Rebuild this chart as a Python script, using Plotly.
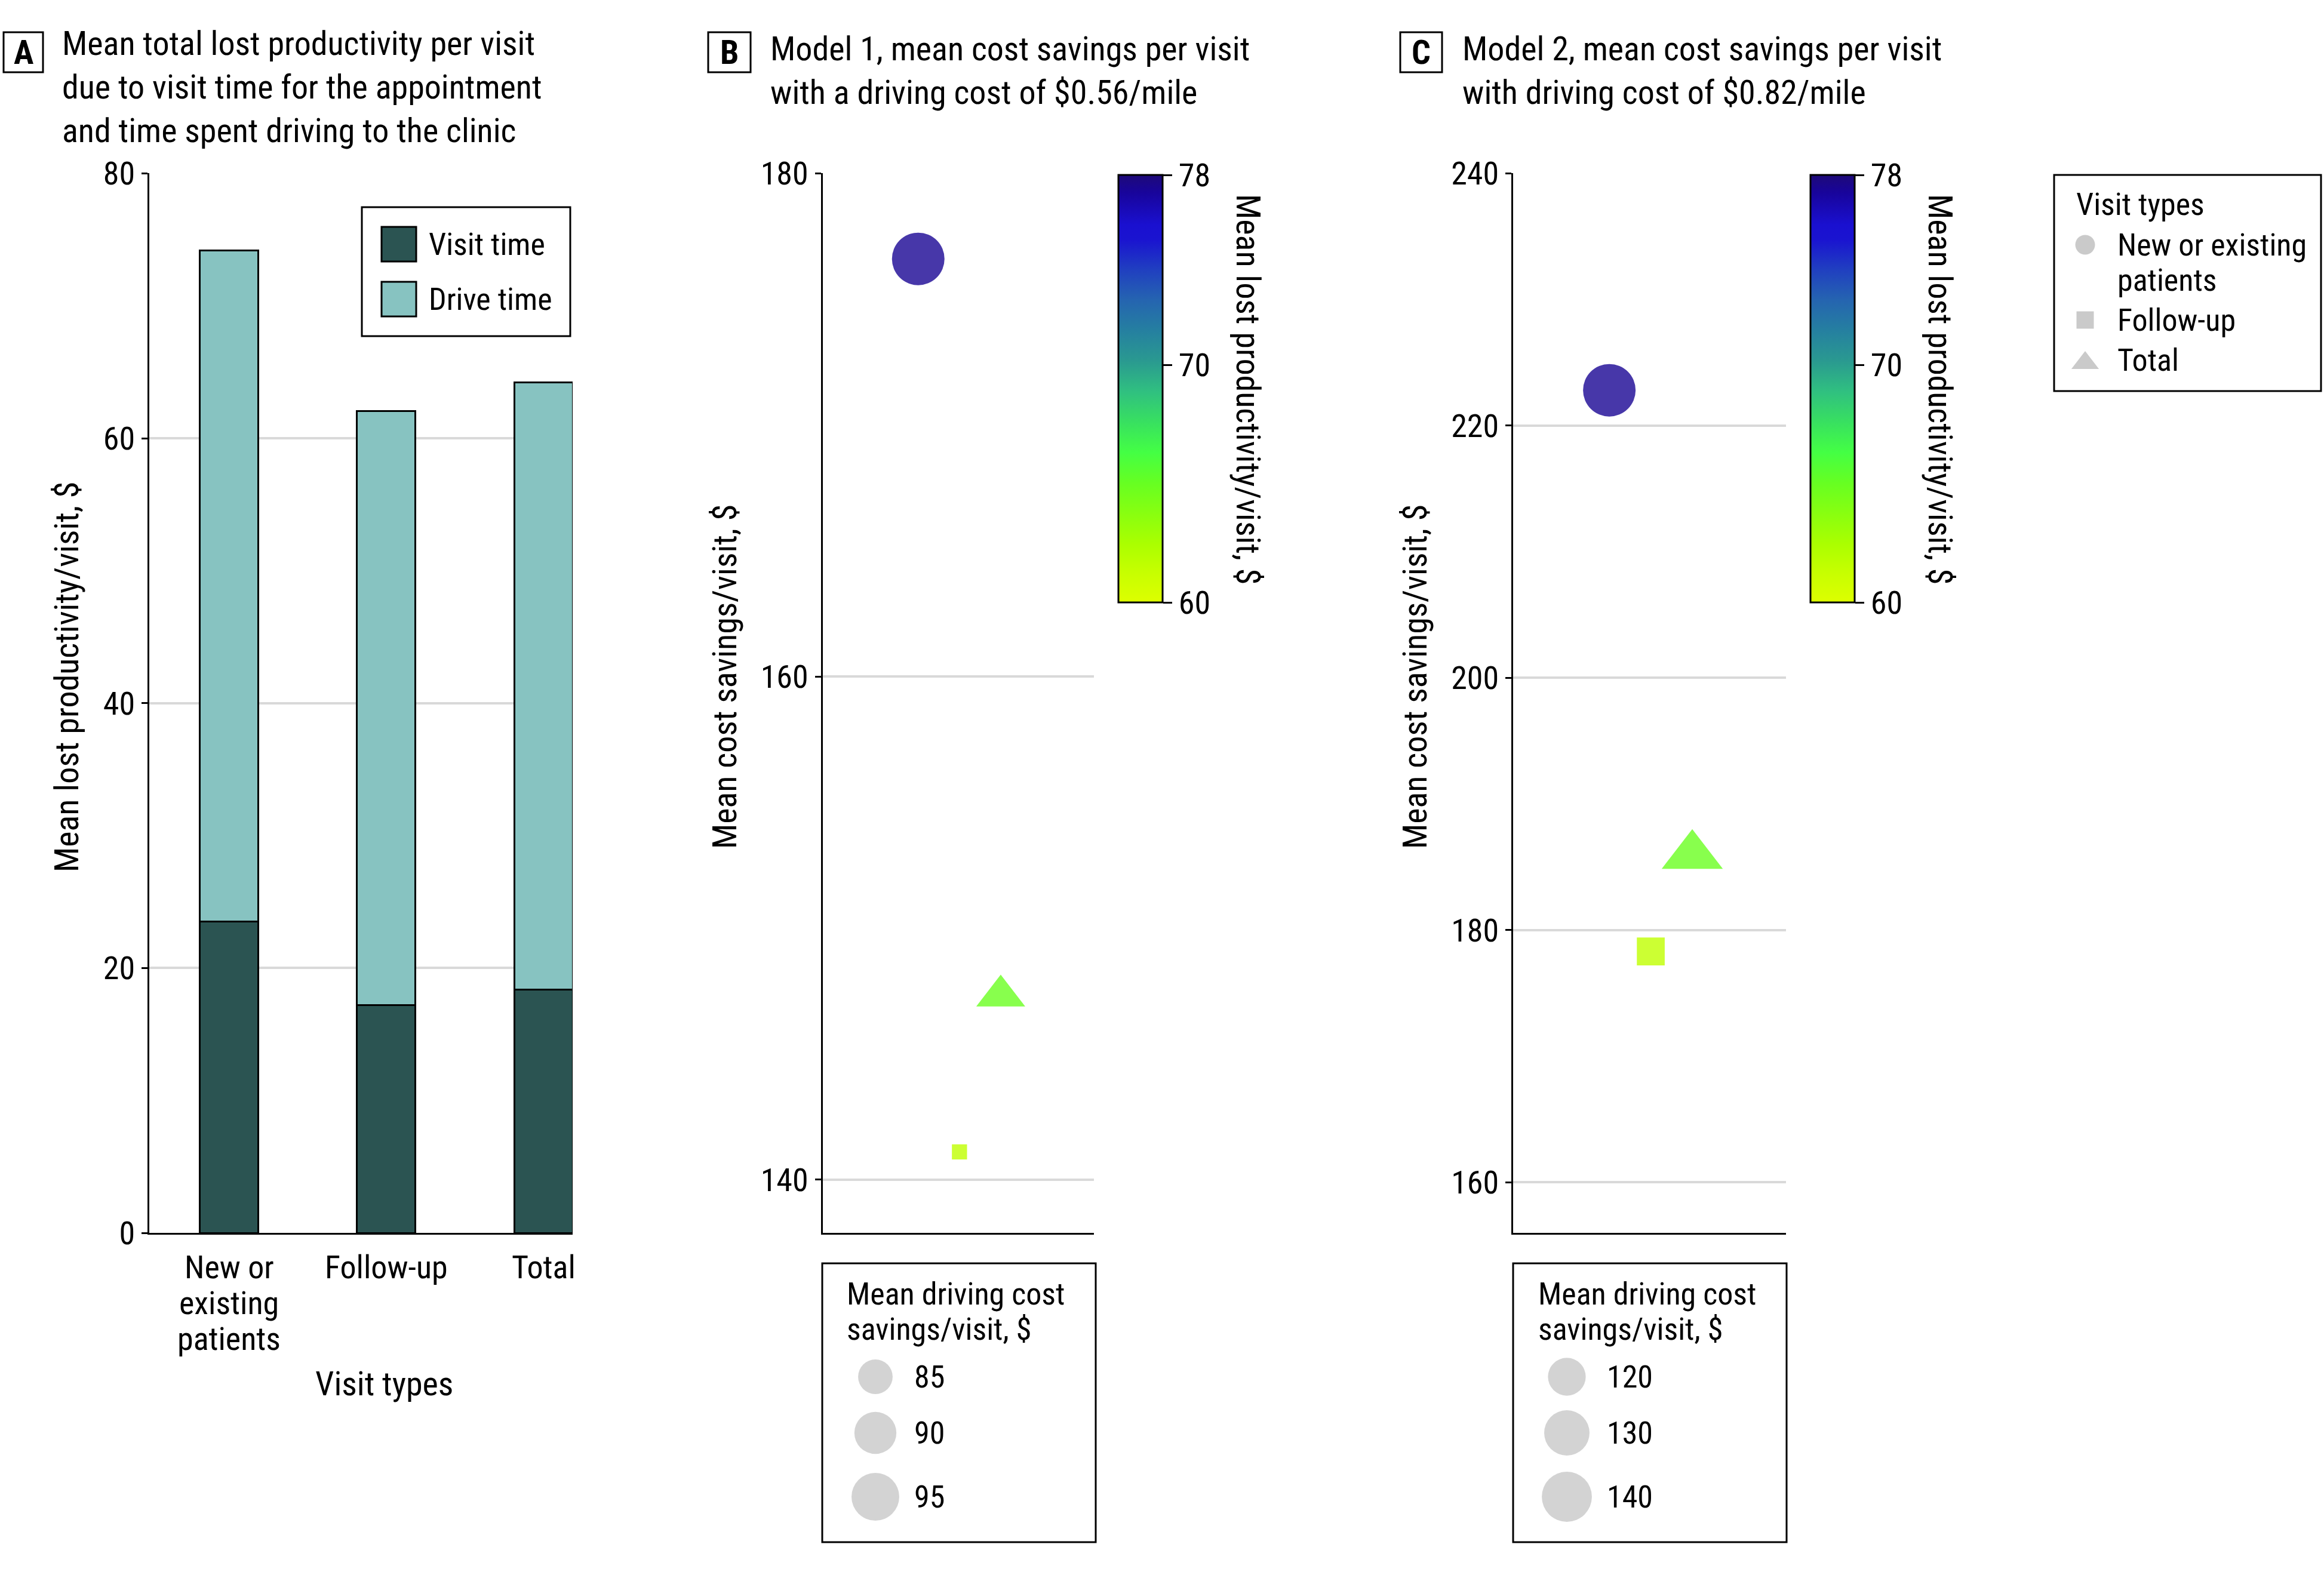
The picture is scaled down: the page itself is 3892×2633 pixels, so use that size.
import math
import plotly.graph_objects as go

W, H = 3892, 2633
FONT = "Liberation Sans Narrow, Roboto Condensed, Arial Narrow, sans-serif"
TITLE_FS = 56
AXT_FS = 56
TICK_FS = 54
LEG_FS = 52

# ---------------- data ----------------
categories = ["New or existing patients", "Follow-up", "Total"]
tick_label_lines = [["New or", "existing", "patients"], ["Follow-up"], ["Total"]]
visit_time = [23.5, 17.2, 18.35]           # $ lost productivity, visit time
drive_time = [50.7, 44.85, 45.85]          # $ lost productivity, drive time
lost_prod = [77.4, 61.6, 64.9]             # mean lost productivity/visit (colour of points)
m1_savings = [176.6, 141.1, 147.3]         # model 1 mean cost savings/visit
m2_savings = [222.8, 178.3, 185.9]         # model 2 mean cost savings/visit
m1_drive = [100.0, 80.2, 84.0]             # model 1 driving cost savings (size)
m2_drive = [146.4, 117.4, 123.0]           # model 2 driving cost savings (size)
m1_size_breaks = [85, 90, 95]
m2_size_breaks = [120, 130, 140]
cbar_ticks = [60, 70, 78]
a_yticks = [0, 20, 40, 60, 80]
b_yticks = [140, 160, 180]
c_yticks = [160, 180, 200, 220, 240]
bar_series = ["Visit time", "Drive time"]
visit_type_legend = [["New or existing", "patients"], ["Follow-up"], ["Total"]]

# ---------------- styles ----------------
VISIT_COL = "#2B5452"
DRIVE_COL = "#87C3C1"
GRID = "#D9D9D9"
LEG_GRAY = "#B3B3B3"
SIZE_GRAY = "#C0C0C0"
POINT_ALPHA = 0.8
SYMBOLS = ["circle", "square", "triangle-up"]
SYM_SCALE = {"circle": 1.0, "square": 0.886, "triangle-up": 1.3}
COLORSCALE = [
    [0.0, "#DDFF00"], [0.067, "#C8FF00"], [0.138, "#AAFF00"], [0.209, "#88FF10"],
    [0.28, "#66FF22"], [0.351, "#44FF44"], [0.422, "#38E060"], [0.493, "#30C080"],
    [0.564, "#2A9A90"], [0.635, "#2580A0"], [0.706, "#2565B0"], [0.777, "#2040C0"],
    [0.848, "#1A14D0"], [0.883, "#1A10D0"], [0.96, "#18049A"], [1.0, "#1E0A78"],
]


def px(x):
    return x / W


def py(y):
    return 1 - y / H


def diam(v, lo, hi, dmin, dmax):
    t = (v - lo) / (hi - lo)
    t = min(max(t, 0.0), 1.0)
    return dmin + (dmax - dmin) * math.sqrt(t)


def marker_sizes(vals, lo, hi, dmin, dmax, symbols):
    return [diam(v, lo, hi, dmin, dmax) * SYM_SCALE[s] for v, s in zip(vals, symbols)]


B_RANGE = (28.6, 88.0)
C_RANGE = (52.7, 88.0)

fig = go.Figure()

# Panel A stacked bars
fig.add_trace(go.Bar(x=categories, y=visit_time, name=bar_series[0], width=0.3725,
                     marker=dict(color=VISIT_COL, line=dict(color="black", width=3)),
                     xaxis="x", yaxis="y", showlegend=False))
fig.add_trace(go.Bar(x=categories, y=drive_time, name=bar_series[1], width=0.3725,
                     marker=dict(color=DRIVE_COL, line=dict(color="black", width=3)),
                     xaxis="x", yaxis="y", showlegend=False))

# Panel B
fig.add_trace(go.Scatter(
    x=categories, y=m1_savings, mode="markers", xaxis="x2", yaxis="y2", showlegend=False,
    marker=dict(symbol=SYMBOLS, color=lost_prod, coloraxis="coloraxis",
                size=marker_sizes(m1_drive, min(m1_drive), max(m1_drive), *B_RANGE, SYMBOLS),
                line=dict(width=0), opacity=POINT_ALPHA)))
# Panel C
fig.add_trace(go.Scatter(
    x=categories, y=m2_savings, mode="markers", xaxis="x3", yaxis="y3", showlegend=False,
    marker=dict(symbol=SYMBOLS, color=lost_prod, coloraxis="coloraxis2",
                size=marker_sizes(m2_drive, min(m2_drive), max(m2_drive), *C_RANGE, SYMBOLS),
                line=dict(width=0), opacity=POINT_ALPHA)))

# ---------- legend keys drawn on an overlay (pixel) axis ----------
fig.add_trace(go.Scatter(x=[668, 668], y=[409, 501], mode="markers", xaxis="x4", yaxis="y4",
                         showlegend=False, hoverinfo="skip",
                         marker=dict(symbol="square", size=58, color=[VISIT_COL, DRIVE_COL],
                                     line=dict(color="black", width=3))))
fig.add_trace(go.Scatter(x=[3492, 3492, 3492], y=[410, 536, 608], mode="markers", xaxis="x4",
                         yaxis="y4", showlegend=False, hoverinfo="skip",
                         marker=dict(symbol=SYMBOLS, size=[33, 29, 40], color=LEG_GRAY,
                                     line=dict(width=0))))
fig.add_trace(go.Scatter(x=[1466] * 3, y=[2306, 2400, 2507], mode="markers", xaxis="x4",
                         yaxis="y4", showlegend=False, hoverinfo="skip",
                         marker=dict(symbol="circle", color=SIZE_GRAY, line=dict(width=0),
                                     size=[diam(v, min(m1_drive), max(m1_drive), *B_RANGE)
                                           for v in m1_size_breaks])))
fig.add_trace(go.Scatter(x=[2624] * 3, y=[2306, 2400, 2507], mode="markers", xaxis="x4",
                         yaxis="y4", showlegend=False, hoverinfo="skip",
                         marker=dict(symbol="circle", color=SIZE_GRAY, line=dict(width=0),
                                     size=[diam(v, min(m2_drive), max(m2_drive), *C_RANGE)
                                           for v in m2_size_breaks])))

tickfont = dict(family=FONT, size=TICK_FS, color="black")
yax_common = dict(showgrid=True, gridcolor=GRID, gridwidth=4, showline=True, linecolor="black",
                  linewidth=3, ticks="outside", ticklen=10, tickwidth=3, tickcolor="black",
                  zeroline=False, tickfont=tickfont, fixedrange=True, automargin=False)
xax_common = dict(type="category", categoryorder="array", categoryarray=categories,
                  showline=True, linecolor="black", linewidth=3, ticks="", showgrid=False,
                  zeroline=False, fixedrange=True, showticklabels=False, automargin=False)

ydom = [py(2065), py(290.4)]


def colorbar(xleft):
    return dict(x=px(xleft), xanchor="left", xref="paper", xpad=0,
                y=py(1009), yanchor="bottom", yref="paper", ypad=0,
                len=716, lenmode="pixels", thickness=74, thicknessmode="pixels",
                outlinewidth=3, outlinecolor="black", ticks="outside", ticklen=15,
                tickwidth=3, tickcolor="black", tickvals=cbar_ticks,
                tickfont=tickfont, title=dict(text=""))


fig.update_layout(
    width=W, height=H, autosize=False,
    margin=dict(l=0, r=0, t=0, b=0, pad=0, autoexpand=False),
    paper_bgcolor="white", plot_bgcolor="rgba(0,0,0,0)", barmode="stack", showlegend=False,
    font=dict(family=FONT, size=LEG_FS, color="black"),
    xaxis=dict(domain=[px(250), px(959)], range=[-0.509, 2.186], anchor="y", **xax_common),
    yaxis=dict(domain=ydom, range=[0, 80], tickvals=a_yticks, anchor="x", **yax_common),
    xaxis2=dict(domain=[px(1377.5), px(1832)], range=[-2.32, 4.26], anchor="y2", **xax_common),
    yaxis2=dict(domain=ydom, range=[137.88, 180], tickvals=b_yticks, anchor="x2", **yax_common),
    xaxis3=dict(domain=[px(2534), px(2991)], range=[-2.32, 4.26], anchor="y3", **xax_common),
    yaxis3=dict(domain=ydom, range=[155.98, 240], tickvals=c_yticks, anchor="x3", **yax_common),
    xaxis4=dict(domain=[0, 1], range=[0, W], visible=False, anchor="y4", fixedrange=True),
    yaxis4=dict(domain=[0, 1], range=[H, 0], visible=False, anchor="x4", fixedrange=True),
    coloraxis=dict(cmin=60, cmax=78, colorscale=COLORSCALE, colorbar=colorbar(1873)),
    coloraxis2=dict(cmin=60, cmax=78, colorscale=COLORSCALE, colorbar=colorbar(3032)),
)

shapes = []


def box(x0, y0, x1, y1, w=3):
    shapes.append(dict(type="rect", xref="paper", yref="paper", x0=px(x0), x1=px(x1),
                       y0=py(y1), y1=py(y0), line=dict(color="black", width=w),
                       fillcolor="rgba(0,0,0,0)", layer="above"))


box(6, 54, 72, 121)        # A letter
box(1186, 54, 1257, 121)   # B letter
box(2345, 54, 2415, 121)   # C letter
box(606, 347, 955, 563)    # bar legend
box(3440, 293, 3887, 655)  # visit types legend
box(1377, 2116, 1835, 2583)
box(2534, 2116, 2992, 2583)

annotations = []


def text(x, y, s, xanchor="left", yanchor="middle", size=LEG_FS, angle=0, xref="paper"):
    annotations.append(dict(x=(px(x) if xref == "paper" else x), y=py(y), xref=xref,
                            yref="paper", text=s, showarrow=False, xanchor=xanchor,
                            yanchor=yanchor, textangle=angle, align="left",
                            font=dict(family=FONT, size=size, color="black")))


def lines(x, y0, step, items, **kw):
    for i, s in enumerate(items):
        text(x, y0 + i * step, s, **kw)


# panel letters & titles
text(39, 88, "<b>A</b>", xanchor="center", size=TITLE_FS)
text(1221.5, 88, "<b>B</b>", xanchor="center", size=TITLE_FS)
text(2380, 88, "<b>C</b>", xanchor="center", size=TITLE_FS)
text(102, 146, "Mean total lost productivity per visit<br>due to visit time for the appointment"
               "<br>and time spent driving to the clinic", size=TITLE_FS)
text(1288, 118, "Model 1, mean cost savings per visit<br>with a driving cost of $0.56/mile",
     size=TITLE_FS)
text(2447, 118, "Model 2, mean cost savings per visit<br>with driving cost of $0.82/mile",
     size=TITLE_FS)

# x tick labels of panel A (placed on the category scale)
for cat, lab in zip(categories, tick_label_lines):
    lines(cat, 2122, 60, lab, xanchor="center", size=TICK_FS, xref="x")

# axis titles
text(112, 1134, "Mean lost productivity/visit, $", xanchor="center", angle=-90, size=AXT_FS)
text(1214, 1134, "Mean cost savings/visit, $", xanchor="center", angle=-90, size=AXT_FS)
text(2370, 1134, "Mean cost savings/visit, $", xanchor="center", angle=-90, size=AXT_FS)
text(643, 2318, "Visit types", xanchor="center", size=AXT_FS)

# colorbar titles
text(2090, 652, "Mean lost productivity/visit, $", xanchor="center", angle=90, size=AXT_FS)
text(3249, 652, "Mean lost productivity/visit, $", xanchor="center", angle=90, size=AXT_FS)

# bar legend text
text(716, 409, bar_series[0])
text(716, 501, bar_series[1])

# visit types legend
text(3475, 342, "Visit types")
lines(3544, 410, 59, visit_type_legend[0])
text(3544, 536, visit_type_legend[1][0])
text(3544, 603, visit_type_legend[2][0])

# size legends
lines(1416, 2167, 59, ["Mean driving cost", "savings/visit, $"])
for yy, v in zip([2306, 2400, 2507], m1_size_breaks):
    text(1529, yy, str(v))
lines(2574, 2167, 59, ["Mean driving cost", "savings/visit, $"])
for yy, v in zip([2306, 2400, 2507], m2_size_breaks):
    text(2689, yy, str(v))

fig.update_layout(shapes=shapes, annotations=annotations)
fig.write_html("out.html", config={"displayModeBar": False},
               post_script="document.body.style.margin='0px';")
